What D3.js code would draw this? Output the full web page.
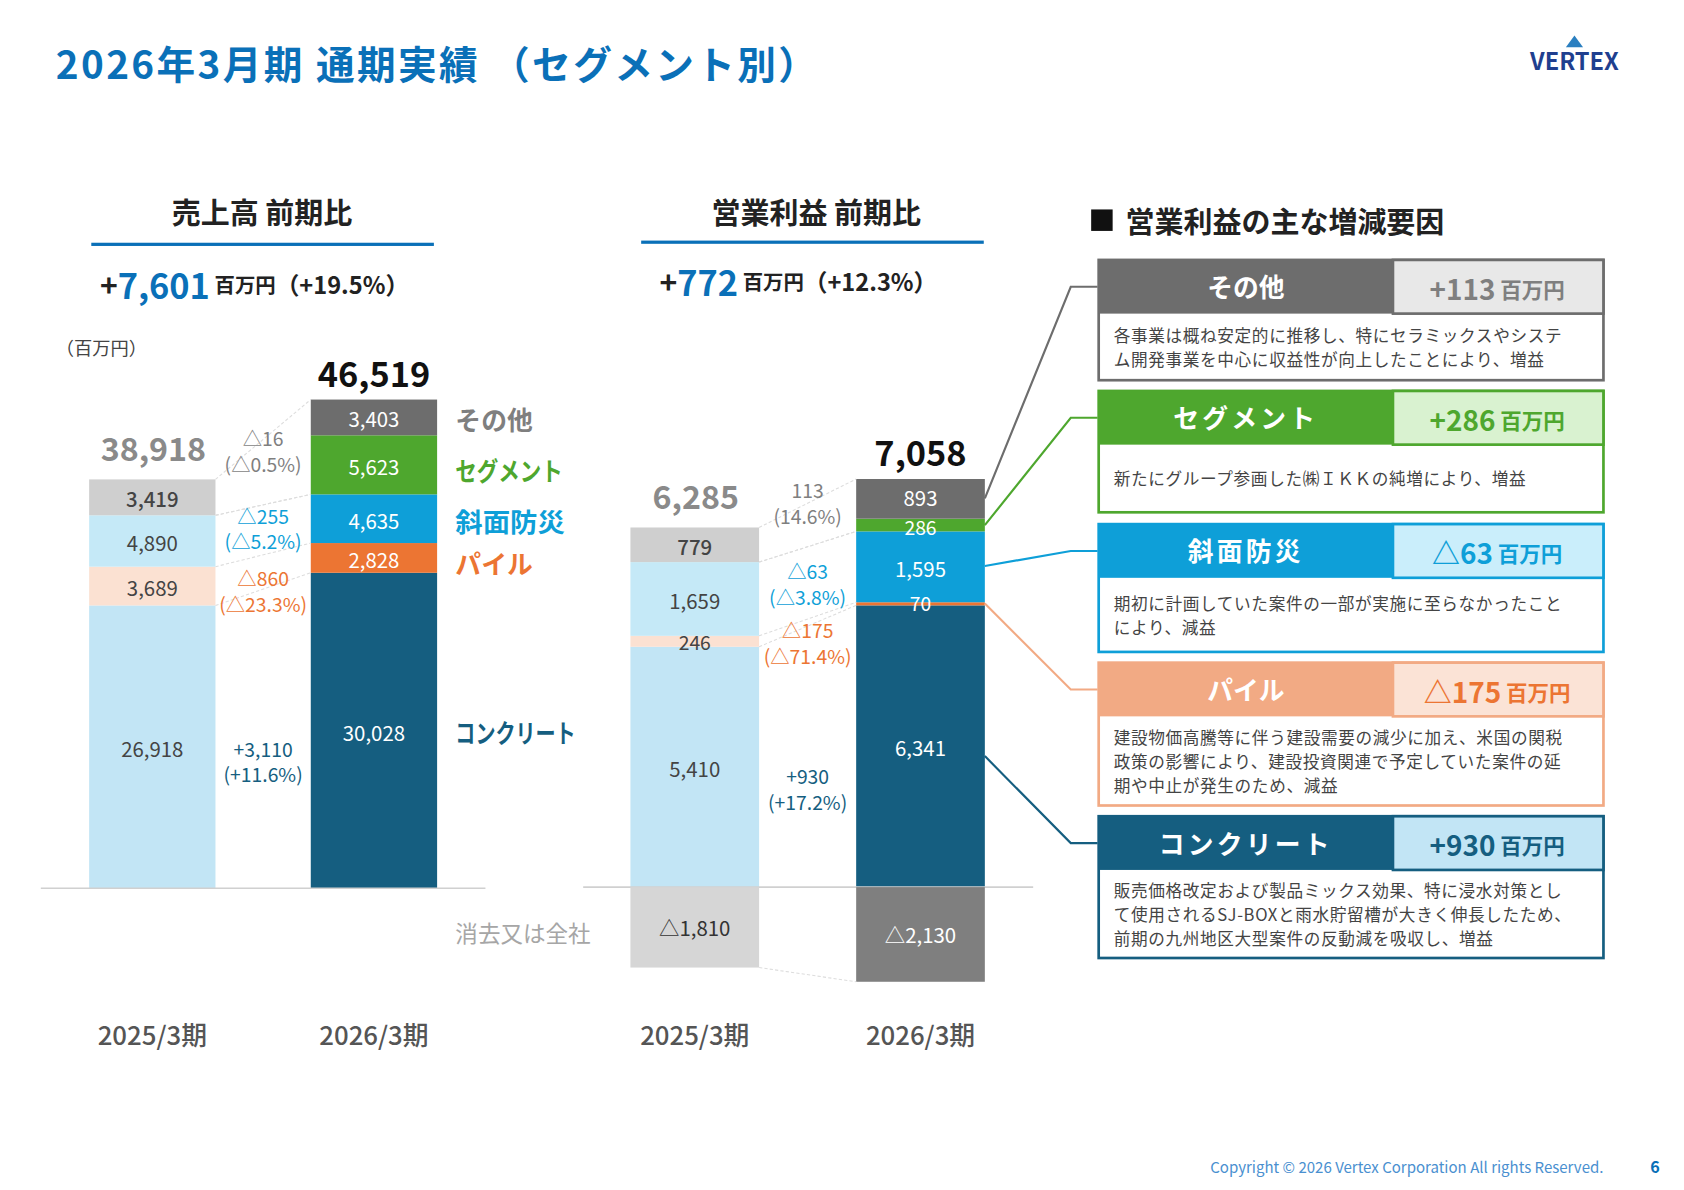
<!DOCTYPE html>
<html><head><meta charset="utf-8">
<script src="https://cdn.jsdelivr.net/npm/d3@7"></script>
<style>body{margin:0;background:#fff}svg{display:block}text{font-family:"Noto Sans CJK JP","Noto Sans",sans-serif}</style>
</head><body><svg id="c" width="1684" height="1190" viewBox="0 0 1568 1108"></svg>
<script>
const periods = ["2025/3期","2026/3期"];
const segments = ["コンクリート","パイル","斜面防災","セグメント","その他"];
const sales2025 = [26918,3689,4890,0,3419];
const sales2026 = [30028,2828,4635,5623,3403];
const salesTotals = [38918,46519];
const op2025 = [5410,246,1659,0,779];
const op2026 = [6341,70,1595,286,893];
const opTotals = [6285,7058];
const opElim = [-1810,-2130];
const salesDelta = [["+3,110","(+11.6%)"],["△860","(△23.3%)"],["△255","(△5.2%)"],null,["△16","(△0.5%)"]];
const opDelta = [["+930","(+17.2%)"],["△175","(△71.4%)"],["△63","(△3.8%)"],null,["113","(14.6%)"]];
const colors26 = ["#155e80","#ec7533","#0e9fd8","#4ea72e","#6d6d6d"];
const colors25 = ["#c2e5f5","#fbe1d2","#c5e9f7","#4ea72e","#cfcfcf"];
const labelCol = ["#155e80","#ec7533","#0e9fd8","#4ea72e","#7f7f7f"];
const factors = [
 {name:"その他",val:"+113",dark:"#6d6d6d",light:"#e8e8e8",vc:"#7f7f7f",text:["各事業は概ね安定的に推移し、特にセラミックスやシステ","ム開発事業を中心に収益性が向上したことにより、増益"]},
 {name:"セグメント",val:"+286",dark:"#4ea72e",light:"#d9f2d0",vc:"#4ea72e",text:["新たにグループ参画した㈱ＩＫＫの純増により、増益"]},
 {name:"斜面防災",val:"△63",dark:"#0e9fd8",light:"#caeefb",vc:"#0e9fd8",text:["期初に計画していた案件の一部が実施に至らなかったこと","により、減益"]},
 {name:"パイル",val:"△175",dark:"#f2aa84",light:"#fbe3d6",vc:"#ec7533",text:["建設物価高騰等に伴う建設需要の減少に加え、米国の関税","政策の影響により、建設投資関連で予定していた案件の延","期や中止が発生のため、減益"]},
 {name:"コンクリート",val:"+930",dark:"#155e80",light:"#c2e5f5",vc:"#155e80",text:["販売価格改定および製品ミックス効果、特に浸水対策とし","て使用されるSJ-BOXと雨水貯留槽が大きく伸長したため、","前期の九州地区大型案件の反動減を吸収し、増益"]}
];
const svg = d3.select("#c");
const T=(x,y,s,o={})=>{const t=svg.append("text").attr("x",x).attr("y",y).text(s)
 .attr("font-size",o.fs||18).attr("fill",o.c||"#333").attr("font-weight",o.fw||400)
 .attr("text-anchor",o.a||"middle").attr("dominant-baseline","central");return t;};

T(52,58,"2026年3月期 通期実績 （セグメント別）",{fs:36,c:"#0a70b8",fw:700,a:"start"}).attr("letter-spacing",2.2);
T(1466,56,"VERTEX",{fs:22,c:"#1f3f8f",fw:700});
svg.append("path").attr("d","M1458,44 L1466,33 L1474,44 Z").attr("fill","#2a7fc0");
T(1493,1086,"Copyright © 2026 Vertex Corporation All rights Reserved.",{fs:14,c:"#4a90d0",a:"end"});
T(1541,1086,"6",{fs:15,c:"#0a70b8",fw:700});

function chart(cfg){
 const x=d3.scaleBand().domain(periods).range(cfg.xr).paddingInner(0.43).paddingOuter(0);
 const y=d3.scaleLinear().domain(cfg.dom).range(cfg.yr);
 const data=[cfg.d25,cfg.d26];
 const bounds=[], labels=[];
 data.forEach((d,i)=>{
  let acc=0; const b=[y(0)];
  d.forEach((v,j)=>{
   const y0=y(acc), y1=y(acc+v); acc+=v; b.push(y1);
   if(v<=0) return;
   svg.append("rect").attr("x",x(periods[i])).attr("width",x.bandwidth()).attr("y",y1).attr("height",y0-y1)
     .attr("fill",(i?colors26:colors25)[j]);
   const off=(cfg.off&&cfg.off[i]&&cfg.off[i][j])||0;
   labels.push([x(periods[i])+x.bandwidth()/2,(y0+y1)/2+1+off,d3.format(",")(v),{fs:y0-y1<20?18:19,c:i?"#fff":"#444",fw:(j==4&&!i)?500:400}]);
  });
  bounds.push(b);
  T(x(periods[i])+x.bandwidth()/2,962,periods[i],{fs:24,c:"#555",fw:500});
 });
 labels.forEach(l=>T(...l));
 const xa=x(periods[0])+x.bandwidth(), xb=x(periods[1]);
 for(let k=1;k<bounds[0].length;k++){
  if(k===4) continue;
  svg.append("line").attr("x1",xa).attr("y1",bounds[0][k]).attr("x2",xb).attr("y2",bounds[1][k])
   .attr("stroke","#ddd").attr("stroke-width",1).attr("stroke-dasharray","3,2");
 }
 svg.append("line").attr("x1",xa).attr("y1",bounds[0][4]).attr("x2",xb).attr("y2",bounds[1][3]).attr("stroke","#ddd").attr("stroke-dasharray","3,2");
 svg.append("line").attr("x1",cfg.axis[0]).attr("x2",cfg.axis[1]).attr("y1",y(0)).attr("y2",y(0)).attr("stroke","#d0d0d0").attr("stroke-width",1.5);
 cfg.tot.forEach((v,i)=>T(x(periods[i])+x.bandwidth()/2+(i?0:1),y(d3.sum(data[i]))-(i?26:30),d3.format(",")(v),{fs:i?32:30,c:i?"#111":"#8a8a8a",fw:700}));
 const mx=(xa+xb)/2;
 cfg.delta.forEach((d,j)=>{ if(!d) return; const p=cfg.dpos[j];
  T(mx,p,d[0],{fs:18,c:labelCol[j]}); T(mx,p+24,d[1],{fs:18,c:labelCol[j]});});
 return {x,y,bounds};
}
T(244,196,"売上高 前期比",{fs:27,fw:700,c:"#222"});
svg.append("rect").attr("x",85).attr("y",226).attr("width",319).attr("height",3).attr("fill","#0a70b8");
svg.append("text").attr("x",93).attr("y",264).attr("dominant-baseline","central").attr("fill","#222").attr("font-weight",700)
 .call(t=>{t.append("tspan").text("+").attr("font-size",28);t.append("tspan").text("7,601").attr("font-size",32).attr("fill","#0a70b8");
 t.append("tspan").text(" 百万円").attr("font-size",19);t.append("tspan").text("（+19.5%）").attr("font-size",22);});
T(52,323,"（百万円）",{fs:17,c:"#444",a:"start"});
chart({xr:[83,407],dom:[0,46519],yr:[827,372],d25:sales2025,d26:sales2026,tot:salesTotals,axis:[38,452],
 delta:salesDelta,dpos:{0:697,1:538,2:480,4:408}});

T(760,196,"営業利益 前期比",{fs:27,fw:700,c:"#222"});
svg.append("rect").attr("x",597).attr("y",224).attr("width",319).attr("height",3).attr("fill","#0a70b8");
svg.append("text").attr("x",614).attr("y",262).attr("dominant-baseline","central").attr("fill","#222").attr("font-weight",700)
 .call(t=>{t.append("tspan").text("+").attr("font-size",28);t.append("tspan").text("772").attr("font-size",32).attr("fill","#0a70b8");
 t.append("tspan").text(" 百万円").attr("font-size",19);t.append("tspan").text("（+12.3%）").attr("font-size",22);});
const c2=chart({xr:[587,917],dom:[0,9185],yr:[826,446],d25:op2025,d26:op2026,tot:opTotals,axis:[543,962],
 delta:opDelta,dpos:{0:723,1:587,2:532,4:456},off:[[0,0,0,0,0],[0,-2,0,1,-3]]});
opElim.forEach((v,i)=>{const x=c2.x(periods[i]),y=c2.y;
 svg.append("rect").attr("x",x).attr("width",c2.x.bandwidth()).attr("y",y(0)).attr("height",y(v)-y(0)).attr("fill",i?"#7f7f7f":"#d6d6d6");
 T(x+c2.x.bandwidth()/2,(y(0)+y(v))/2,"△"+d3.format(",")(-v),{fs:19,c:i?"#fff":"#333"});});
svg.append("line").attr("x1",c2.x(periods[0])+c2.x.bandwidth()).attr("y1",c2.y(opElim[0])).attr("x2",c2.x(periods[1])).attr("y2",c2.y(opElim[1])).attr("stroke","#ddd").attr("stroke-dasharray","3,2");

[["その他",390,4,0],["セグメント",437,3,100],["斜面防災",485,2,102],["パイル",524,1,0],["コンクリート",681,0,112]].forEach(([s,y,j,w])=>{
 const t=T(424,y,s,{fs:24,fw:700,c:labelCol[j],a:"start"}); if(w) t.attr("textLength",w).attr("lengthAdjust","spacingAndGlyphs");});
T(424,868,"消去又は全社",{fs:21,c:"#a6a6a6",a:"start"});

svg.append("rect").attr("x",1016).attr("y",195).attr("width",20).attr("height",20).attr("fill","#111");
T(1048,205,"営業利益の主な増減要因",{fs:27,fw:700,c:"#222",a:"start"});
const tops=[242,364,488,617,760], bodyH=[62,63,69,83,82];
const conn=[464,489,527,562,704];
factors.forEach((f,i)=>{
 const t=tops[i];
 svg.append("polyline").attr("points",`917,${conn[i]} 997,${t+25} 1022,${t+25}`).attr("fill","none").attr("stroke",f.dark).attr("stroke-width",2);
 svg.append("rect").attr("x",1023).attr("y",t).attr("width",470).attr("height",50+bodyH[i]).attr("fill","#fff").attr("stroke",f.dark).attr("stroke-width",2.5);
 svg.append("rect").attr("x",1023).attr("y",t).attr("width",274).attr("height",50).attr("fill",f.dark);
 svg.append("rect").attr("x",1297).attr("y",t).attr("width",196).attr("height",50).attr("fill",f.light).attr("stroke",f.dark).attr("stroke-width",2.5);
 T(1160,t+24,f.name,{fs:24,fw:700,c:"#fff"}).attr("letter-spacing",f.name.length>3?3:0);
 svg.append("text").attr("x",1394).attr("y",t+26).attr("text-anchor","middle").attr("dominant-baseline","central").attr("fill",f.vc).attr("font-weight",700)
  .call(s=>{s.append("tspan").text(f.val).attr("font-size",26);s.append("tspan").text(" 百万円").attr("font-size",20);});
 const n=f.text.length, by=t+50+bodyH[i]/2-(n-1)*11;
 f.text.forEach((l,k)=>T(1037,by+k*22,l,{fs:15.5,c:"#444",a:"start"}).attr("letter-spacing",0.6));
});
</script></body></html>
